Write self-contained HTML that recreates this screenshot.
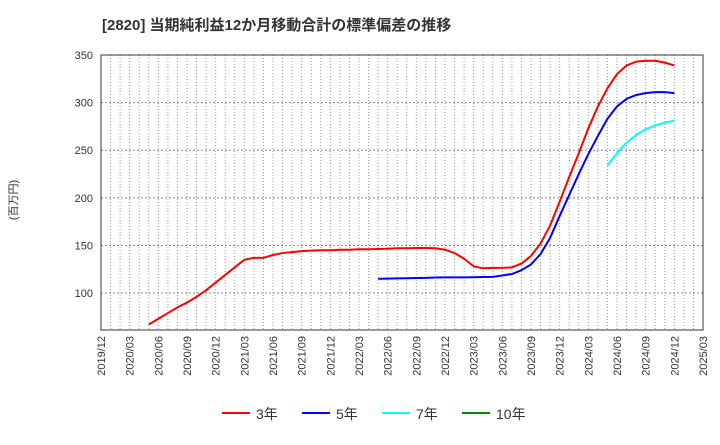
<!DOCTYPE html>
<html><head><meta charset="utf-8"><style>
body{margin:0;background:#fff;font-family:"Liberation Sans","Noto Sans CJK JP",sans-serif;}
svg text{font-family:"Liberation Sans","Noto Sans CJK JP",sans-serif;}
</style></head><body>
<svg id="c" width="720" height="440" xmlns="http://www.w3.org/2000/svg">
<text x="102" y="30" font-size="15" font-weight="bold" fill="#333">[2820]  当期純利益12か月移動合計の標準偏差の推移</text>
<text transform="translate(17,200) rotate(-90)" font-size="11" fill="#333" text-anchor="middle">(百万円)</text>
<g id="grid"></g><g id="series"></g><g id="axes"></g>
<g>
<line x1="222" y1="413" x2="250" y2="413" stroke="#f00" stroke-width="2"/><text x="256" y="419" font-size="14" fill="#333">3年</text>
<line x1="302" y1="413" x2="330" y2="413" stroke="#00f" stroke-width="2"/><text x="336" y="419" font-size="14" fill="#333">5年</text>
<line x1="382" y1="413" x2="410" y2="413" stroke="#0ff" stroke-width="2"/><text x="416" y="419" font-size="14" fill="#333">7年</text>
<line x1="462" y1="413" x2="490" y2="413" stroke="#080" stroke-width="2"/><text x="496" y="419" font-size="14" fill="#333">10年</text>
</g>
</svg>
<script>
const yTicks=[100,150,200,250,300,350];
const xLabels=["2019/12","2020/03","2020/06","2020/09","2020/12","2021/03","2021/06","2021/09","2021/12","2022/03","2022/06","2022/09","2022/12","2023/03","2023/06","2023/09","2023/12","2024/03","2024/06","2024/09","2024/12","2025/03"];
const s3Start=5;
const s3=[67,73,79,85,90,96,103,111,119,127,135,137,137,140,142,143,144,144.5,145,145,145.5,145.5,146,146,146.3,146.5,147,147,147.3,147.3,147,145.5,142,136,128,126,126.5,126.5,127,131,139,152,171,196,222,247,273,296,315,330,339,343,344,344,342,339];
const s5Start=29;
const s5=[115,115.2,115.4,115.6,115.8,116,116.3,116.5,116.5,116.5,116.6,116.8,117,118.5,120,124,130,141,158,181,203,225,246,265,283,296,304,308,310,311,311,310];
const s7Start=53;
const s7=[234,247,258,266,272,276,279,281];
const X0=101,X1=703,Y0=55,Y1=330,NM=63,VMIN=61.2,VMAX=350;
const xs=i=>X0+(X1-X0)*i/NM;
const ys=v=>Y1-(v-VMIN)/(VMAX-VMIN)*(Y1-Y0);
const NS="http://www.w3.org/2000/svg";
function mk(t,a,p){const e=document.createElementNS(NS,t);for(const k in a)e.setAttribute(k,a[k]);p.appendChild(e);return e;}
const g=document.getElementById('grid'),ax=document.getElementById('axes'),se=document.getElementById('series');
for(let i=1;i<NM;i++){const l=mk('line',{x1:xs(i),x2:xs(i),y1:Y0,y2:Y1,stroke:'#999','stroke-width':1,'stroke-dasharray':'1,2'},g);

}
yTicks.forEach(v=>{const l=mk('line',{x1:X0,x2:X1,y1:ys(v),y2:ys(v),stroke:'#888','stroke-width':1,'stroke-dasharray':'2,2'},g);


const t=mk('text',{x:93,y:ys(v)+4,'font-size':11,fill:'#333','text-anchor':'end'},ax);t.textContent=v;

});
xLabels.forEach((s,k)=>{const x=xs(k*3);const t=mk('text',{transform:`translate(${x+4},336) rotate(-90)`,'font-size':11,fill:'#333','text-anchor':'end'},ax);t.textContent=s;

});
const fr=mk('rect',{x:X0,y:Y0,width:X1-X0,height:Y1-Y0,fill:'none',stroke:'#333','stroke-width':1},ax);


function line(arr,st,col,name){const p=mk('polyline',{points:arr.map((v,i)=>xs(st+i)+','+ys(v)).join(' '),fill:'none',stroke:col,'stroke-width':2,'stroke-linejoin':'round'},se);

}
line(s3,s3Start,'#f00','series-3y');
line(s5,s5Start,'#00f','series-5y');
line(s7,s7Start,'#0ff','series-7y');
</script>
</body></html>
